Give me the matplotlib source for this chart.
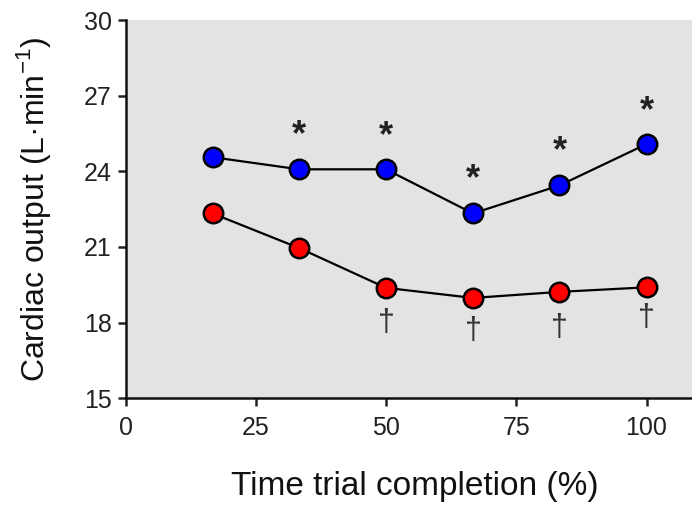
import matplotlib
matplotlib.use("Agg")
import matplotlib.pyplot as plt
import matplotlib.transforms as mtransforms

# Data
x_pct = [16.7, 33.3, 50.0, 66.7, 83.3, 100.0]
blue_vals = [24.56, 24.08, 24.08, 22.33, 23.44, 25.08]
red_vals = [22.33, 20.96, 19.38, 18.98, 19.22, 19.40]

star_x = [33.3, 50.0, 66.7, 83.3, 100.0]
star_y = [25.67, 25.61, 23.9, 25.0, 26.6]
dagger_x = [50.0, 66.7, 83.3, 100.0]
dagger_y = [18.0, 17.67, 17.8, 18.17]

xticks = [0, 25, 50, 75, 100]
yticks = [15, 18, 21, 24, 27, 30]

plt.rcParams['font.family'] = ['Liberation Sans', 'DejaVu Sans']

fig = plt.figure(figsize=(6.92, 5.05), dpi=100)
W, H = 692, 505
left_px, right_px, top_px, bottom_px = 125.5, 692, 20, 398.3
ax = fig.add_axes([left_px / W, 1 - bottom_px / H, (right_px - left_px) / W, (bottom_px - top_px) / H])
ax.set_facecolor('#e3e3e3')

ax.plot(x_pct, blue_vals, '-', color='black', lw=1.6, zorder=2)
ax.plot(x_pct, red_vals, '-', color='black', lw=1.6, zorder=2)
ax.plot(x_pct, blue_vals, 'o', ms=14, mfc='#0000ff', mec='black', mew=1.8, zorder=3, clip_on=False)
ax.plot(x_pct, red_vals, 'o', ms=14, mfc='#ff0000', mec='black', mew=1.8, zorder=3, clip_on=False)

star_off = ax.transData + mtransforms.ScaledTranslation(0, -6 / 100, fig.dpi_scale_trans)
for xs, ys in zip(star_x, star_y):
    ax.text(xs, ys, '*', ha='center', va='center', fontsize=26, fontweight='bold',
            color='#222222', transform=star_off)
for xs, ys in zip(dagger_x, dagger_y):
    ax.text(xs, ys, '†', ha='center', va='center', fontsize=22, color='#333333',
            family=['Liberation Sans', 'DejaVu Sans'])

ax.set_xlim(0, (right_px - left_px) / 5.21)
ax.set_ylim(15, 30)
ax.set_xticks(xticks)
ax.set_yticks(yticks)

for s in ['top', 'right']:
    ax.spines[s].set_visible(False)
for s in ['left', 'bottom']:
    ax.spines[s].set_linewidth(1.8)
    ax.spines[s].set_color('#111111')

ax.tick_params(axis='both', direction='out', length=6, width=1.8, labelsize=18,
               colors='#222222', pad=4)
ax.tick_params(axis='x', pad=7)

ax.set_xlabel('Time trial completion (%)', fontsize=24, labelpad=26, color='#111111')
ax.xaxis.set_label_coords((414.5 - left_px) / (right_px - left_px), -(487 - bottom_px) / (bottom_px - top_px))
ax.xaxis.label.set_va('center')
ax.set_ylabel('Cardiac output (L·min$^{\\mathregular{-1}}$)', fontsize=23, labelpad=22, color='#111111')

fig.savefig('out.png', dpi=100)
